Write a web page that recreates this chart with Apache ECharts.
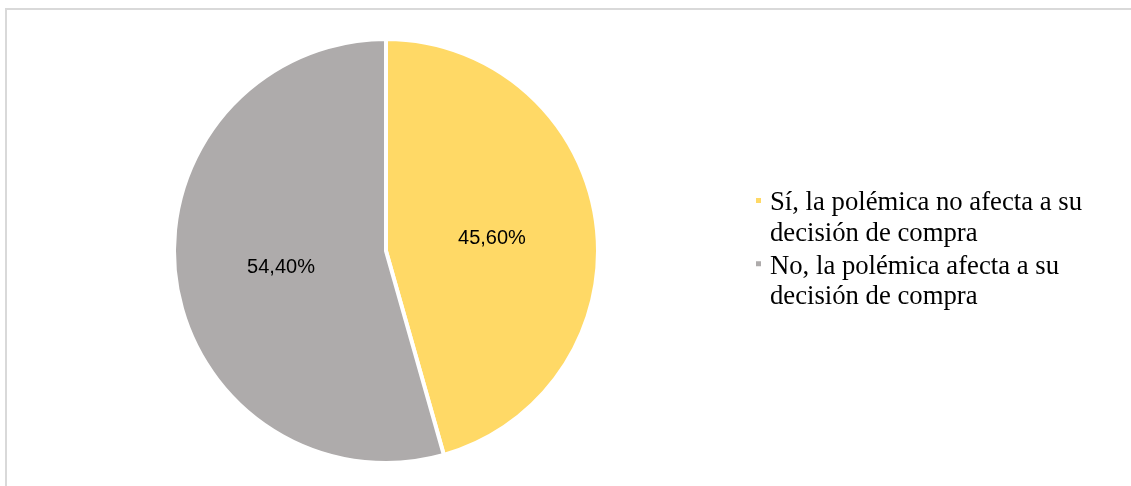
<!DOCTYPE html>
<html>
<head>
<meta charset="utf-8">
<style>
  html, body { margin: 0; padding: 0; background: #ffffff; }
  #chart { width: 1131px; height: 486px; }
</style>
<script src="https://cdn.jsdelivr.net/npm/echarts@6/dist/echarts.min.js"></script>
</head>
<body>
<div id="chart"></div>
<script>
const categories = [
  'Sí, la polémica no afecta a su\ndecisión de compra',
  'No, la polémica afecta a su\ndecisión de compra'
];
const values = [45.6, 54.4];
const colors = ['#FFD966', '#AEABAB'];

const chart = echarts.init(document.getElementById('chart'), null, { renderer: 'canvas' });

const lineH = 30.7;
// legend icon: small square aligned with first line of the two-line label
const iconPath = 'path://M0,0M0,8.9L7,8.9L7,15.9L0,15.9ZM0,61.4';

chart.setOption({
  animation: false,
  backgroundColor: '#ffffff',
  graphic: [
    { type: 'rect', shape: { x: 5, y: 8, width: 1126, height: 2 }, style: { fill: '#d9d9d9' }, silent: true },
    { type: 'rect', shape: { x: 5, y: 8, width: 2, height: 478 }, style: { fill: '#d9d9d9' }, silent: true }
  ],
  legend: {
    orient: 'vertical',
    left: 749,
    top: 182,
    itemWidth: 7,
    itemHeight: 61.4,
    itemGap: 0,
    icon: iconPath,
    selectedMode: false,
    textStyle: {
      fontFamily: '"Liberation Serif", "Times New Roman", serif',
      fontSize: 26.7,
      lineHeight: lineH,
      color: '#000000',
      padding: [0, 0, 0, 3]
    },
    data: categories
  },
  series: [{
    type: 'pie',
    center: [386, 251],
    radius: 212,
    startAngle: 90,
    clockwise: true,
    avoidLabelOverlap: false,
    itemStyle: { borderColor: '#ffffff', borderWidth: 4 },
    label: {
      show: true,
      position: 'inside',
      fontFamily: '"Liberation Sans", Arial, sans-serif',
      fontSize: 20,
      color: '#000000',
      formatter: function (p) { return p.value.toFixed(2).replace('.', ',') + '%'; }
    },
    labelLine: { show: false },
    emphasis: { disabled: true },
    data: [
      { name: categories[0], value: values[0], itemStyle: { color: colors[0] }, label: { offset: [-2, 3] } },
      { name: categories[1], value: values[1], itemStyle: { color: colors[1] }, label: { offset: [3, 1] } }
    ]
  }]
});
</script>
</body>
</html>
